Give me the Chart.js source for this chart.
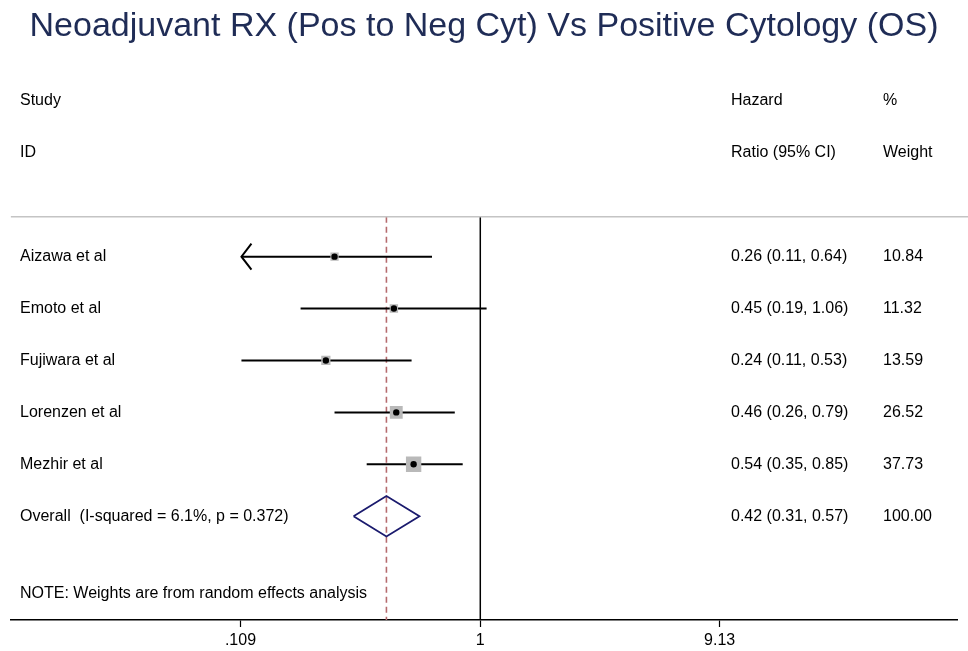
<!DOCTYPE html>
<html>
<head>
<meta charset="utf-8">
<script src="https://cdn.jsdelivr.net/npm/chart.js@4"></script>
<style>
html,body{margin:0;padding:0;background:#fff;}
#wrap{width:968px;height:651px;}
</style>
</head>
<body>
<div id="wrap"><canvas id="c" width="968" height="651"></canvas></div>
<script>
// ---- Data ----
const studies = ["Aizawa et al","Emoto et al","Fujiwara et al","Lorenzen et al","Mezhir et al"];
const hr      = [0.26, 0.45, 0.24, 0.46, 0.54];
const lower   = [0.11, 0.19, 0.11, 0.26, 0.35];
const upper   = [0.64, 1.06, 0.53, 0.79, 0.85];
const weights = [10.84, 11.32, 13.59, 26.52, 37.73];
const arrowLeft = [true, false, false, false, false];
const overallLabel = "Overall  (I-squared = 6.1%, p = 0.372)";
const overall = {est:0.42, lo:0.31, hi:0.57, weight:100.00};
const xTicks = [0.109, 1, 9.13];
const xTickLabels = [".109", "1", "9.13"];
const title = "Neoadjuvant RX (Pos to Neg Cyt) Vs Positive Cytology (OS)";
const note = "NOTE: Weights are from random effects analysis";

// row positions (y index)
const rowY = studies.map((_, i) => 3 + i);
const overallY = 3 + studies.length;
const noteY = overallY + 1.5;
const sepY = 2.23;

const FONT = '"Liberation Sans", Arial, Helvetica, sans-serif';
const fmt = v => v.toFixed(2);

const datasets = [];
// CI lines
studies.forEach((s, i) => {
  datasets.push({type:'line', order:3, data:[{x:lower[i],y:rowY[i]},{x:upper[i],y:rowY[i]}],
    borderColor:'#000', borderWidth:2, pointRadius:0, showLine:true});
});
// squares
datasets.push({type:'scatter', order:2, data: studies.map((s,i)=>({x:hr[i], y:rowY[i]})),
  pointStyle:'rect', backgroundColor:'#b9b9b9', borderColor:'#b9b9b9', borderWidth:0,
  pointRadius: weights.map(w => 2.5*Math.sqrt(w)/Math.SQRT2)});
// dots
datasets.push({type:'scatter', order:1, data: studies.map((s,i)=>({x:hr[i], y:rowY[i]})),
  pointStyle:'circle', backgroundColor:'#000', borderColor:'#000', borderWidth:0, pointRadius:3.2});
// diamond
const dh = 0.39;
datasets.push({type:'line', order:3, data:[
  {x:overall.lo,y:overallY},{x:overall.est,y:overallY-dh},{x:overall.hi,y:overallY},
  {x:overall.est,y:overallY+dh},{x:overall.lo,y:overallY}],
  borderColor:'#1b1b6e', borderWidth:1.8, pointRadius:0, fill:false, tension:0});
// null line at 1
datasets.push({type:'line', order:4, data:[{x:1,y:sepY},{x:1,y:10}], borderColor:'#000', borderWidth:1.5, pointRadius:0});
// overall dashed line
datasets.push({type:'line', order:4, data:[{x:overall.est,y:sepY},{x:overall.est,y:10}],
  borderColor:'#b56a6e', borderWidth:1.6, borderDash:[6,4], pointRadius:0});

const textPlugin = {
  id:'forestText',
  afterDatasetsDraw(chart){
    const ctx = chart.ctx, xs = chart.scales.x, ys = chart.scales.y;
    ctx.save();
    // separator
    ctx.strokeStyle = '#c4c4c4'; ctx.lineWidth = 1.6;
    ctx.beginPath(); ctx.moveTo(chart.chartArea.left, ys.getPixelForValue(sepY));
    ctx.lineTo(chart.width, ys.getPixelForValue(sepY)); ctx.stroke();
    // arrows
    ctx.strokeStyle = '#000'; ctx.lineWidth = 2;
    studies.forEach((s,i)=>{
      if(!arrowLeft[i]) return;
      const px = xs.getPixelForValue(lower[i]), py = ys.getPixelForValue(rowY[i]);
      ctx.beginPath(); ctx.moveTo(px+10, py-13); ctx.lineTo(px, py); ctx.lineTo(px+10, py+13); ctx.stroke();
    });
    ctx.fillStyle = '#000';
    ctx.font = '16px ' + FONT;
    ctx.textBaseline = 'middle'; ctx.textAlign = 'left';
    const xL = 20, xH = 731, xW = 883;
    const py = v => ys.getPixelForValue(v);
    ctx.fillText('Study', xL, py(0));
    ctx.fillText('ID', xL, py(1));
    ctx.fillText('Hazard', xH, py(0));
    ctx.fillText('Ratio (95% CI)', xH, py(1));
    ctx.fillText('%', xW, py(0));
    ctx.fillText('Weight', xW, py(1));
    studies.forEach((s,i)=>{
      ctx.fillText(s, xL, py(rowY[i]));
      ctx.fillText(fmt(hr[i])+' ('+fmt(lower[i])+', '+fmt(upper[i])+')', xH, py(rowY[i]));
      ctx.fillText(fmt(weights[i]), xW, py(rowY[i]));
    });
    ctx.fillText(overallLabel, xL, py(overallY));
    ctx.fillText(fmt(overall.est)+' ('+fmt(overall.lo)+', '+fmt(overall.hi)+')', xH, py(overallY));
    ctx.fillText(overall.weight.toFixed(2), xW, py(overallY));
    ctx.fillText(note, xL, py(noteY));
    ctx.restore();
  }
};

new Chart(document.getElementById('c'), {
  data:{datasets},
  options:{
    responsive:false, animation:false,
    layout:{padding:{left:10,right:10,top:0,bottom:0}},
    plugins:{
      legend:{display:false}, tooltip:{enabled:false},
      title:{display:true, text:title, color:'#1f2c56',
        font:{family:FONT, size:34, weight:'normal'}, padding:{top:6.6, bottom:27.6}}
    },
    scales:{
      x:{type:'logarithmic', min:0.01306, max:82,
        afterBuildTicks(ax){ ax.ticks = xTicks.map(v=>({value:v})); },
        afterFit(ax){ ax.height = 31; },
        ticks:{autoSkip:false, maxRotation:0, color:'#000', padding:4,
          font:{family:FONT, size:16},
          callback:(v)=>{const k=xTicks.indexOf(v); return k>=0?xTickLabels[k]:'';}},
        grid:{display:true, drawOnChartArea:false, drawTicks:true, tickLength:7, tickColor:'#000', tickWidth:1.2},
        border:{display:true, color:'#000', width:1.5}
      },
      y:{type:'linear', reverse:true, min:-0.5, max:10, display:false}
    }
  },
  plugins:[textPlugin]
});
</script>
</body>
</html>
